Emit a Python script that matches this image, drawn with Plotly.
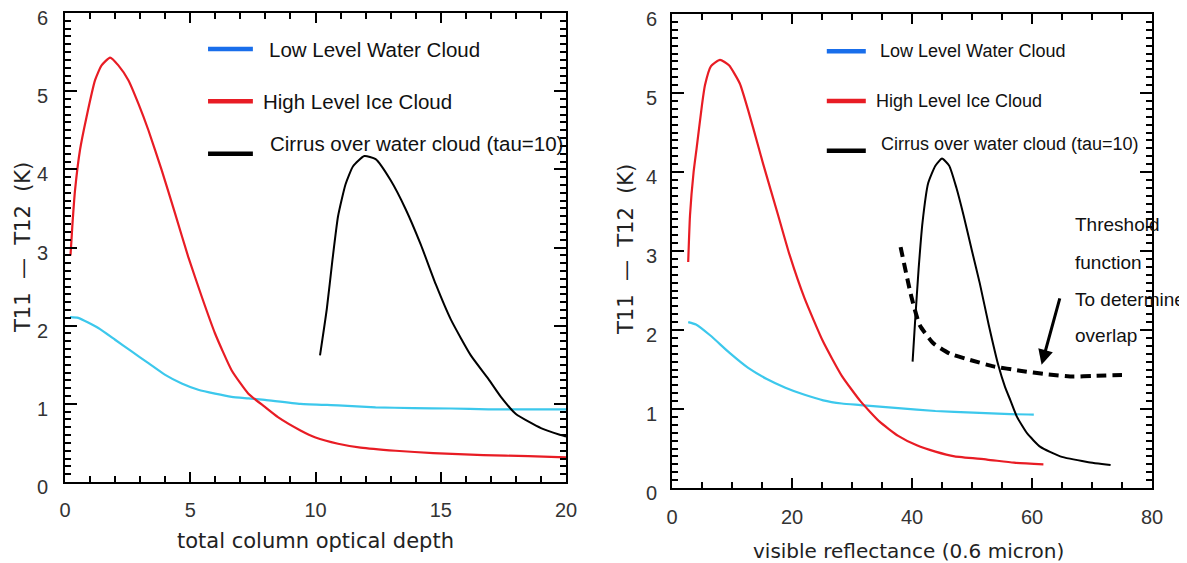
import plotly.graph_objects as go

# ---------------- data: left panel (total column optical depth) ----------------
L_water_x = [0.2, 0.53, 1.33, 2.0, 2.66, 3.33, 4.0, 4.66, 5.32, 5.99, 6.65, 7.32, 7.98, 9.4, 10.9, 12.4, 13.9, 15.4, 16.9, 18.5, 20.0]
L_water_y = [2.11, 2.10, 1.97, 1.82, 1.67, 1.52, 1.37, 1.26, 1.18, 1.13, 1.09, 1.07, 1.05, 1.0, 0.98, 0.955, 0.946, 0.94, 0.93, 0.93, 0.93]

L_ice_x = [0.22, 0.29, 0.40, 0.6, 0.86, 1.2, 1.46, 1.8, 2.13, 2.53, 2.93, 3.33, 3.86, 4.39, 4.92, 5.46, 5.99, 6.65, 7.32, 7.98, 8.5, 9.4, 10.0, 10.9, 11.8, 13.2, 14.7, 16.7, 18.5, 20.0]
L_ice_y = [2.90, 3.26, 3.73, 4.25, 4.67, 5.14, 5.33, 5.43, 5.33, 5.14, 4.84, 4.50, 3.99, 3.44, 2.88, 2.37, 1.90, 1.43, 1.13, 0.96, 0.83, 0.66, 0.57, 0.49, 0.44, 0.40, 0.37, 0.345, 0.33, 0.315]

L_cirrus_x = [10.18, 10.45, 10.68, 10.9, 11.2, 11.5, 11.95, 12.4, 13.0, 13.6, 14.2, 14.8, 15.4, 16.2, 16.9, 17.4, 18.0, 19.0, 19.8, 20.0]
L_cirrus_y = [1.62, 2.21, 2.85, 3.4, 3.81, 4.04, 4.17, 4.13, 3.86, 3.49, 3.04, 2.53, 2.08, 1.62, 1.32, 1.09, 0.87, 0.69, 0.60, 0.58]

# ---------------- data: right panel (visible reflectance) ----------------
R_water_x = [2.7, 4.0, 6.4, 9.6, 12.7, 15.8, 18.9, 22.1, 25.2, 28.3, 31.4, 37.7, 43.9, 50.2, 56.4, 60.3]
R_water_y = [2.10, 2.07, 1.93, 1.71, 1.52, 1.38, 1.27, 1.18, 1.11, 1.07, 1.05, 1.01, 0.975, 0.955, 0.935, 0.93]

R_ice_x = [2.7, 3.0, 3.6, 4.1, 5.0, 5.5, 6.5, 8.0, 9.5, 11.3, 12.7, 14.4, 15.2, 17.7, 19.6, 22.1, 25.2, 28.3, 31.4, 34.6, 37.7, 40.8, 43.9, 47.1, 52.5, 57.0, 61.9]
R_ice_y = [2.86, 3.45, 4.0, 4.3, 4.85, 5.1, 5.34, 5.42, 5.35, 5.12, 4.78, 4.32, 4.1, 3.45, 2.95, 2.4, 1.85, 1.42, 1.10, 0.84, 0.66, 0.54, 0.46, 0.40, 0.36, 0.32, 0.30]

R_cirrus_x = [40.1, 40.5, 41.1, 41.75, 42.7, 43.9, 45.0, 46.2, 47.4, 48.6, 50.0, 51.3, 52.8, 54.4, 55.5, 56.4, 57.5, 59.2, 61.4, 64.7, 69.2, 73.1]
R_cirrus_y = [1.60, 2.09, 2.77, 3.36, 3.86, 4.08, 4.17, 4.08, 3.80, 3.45, 3.0, 2.59, 2.06, 1.55, 1.28, 1.11, 0.90, 0.69, 0.52, 0.40, 0.33, 0.29]

R_thresh_x = [38.1, 39.9, 41.3, 43.6, 46.3, 49.7, 53.6, 58.0, 62.4, 66.9, 70.2, 75.0]
R_thresh_y = [3.05, 2.42, 2.06, 1.83, 1.70, 1.62, 1.54, 1.485, 1.44, 1.41, 1.42, 1.43]

legend_labels = ["Low Level Water Cloud", "High Level Ice Cloud", "Cirrus over water cloud (tau=10)"]
threshold_lines = ["Threshold", "function", "To determine", "overlap"]

# ---------------- page geometry (page body has an 8px default margin) ----------------
OFF = 8
W, H = 1187 - OFF, 563 - OFF
def PX(x):
    return (x - OFF) / W
def PY(y):
    return 1 - (y - OFF) / H

# ---------------- styles ----------------
RED = "rgb(232,28,36)"
CYAN = "rgb(60,200,236)"
LEG_BLUE = "rgb(25,110,235)"
BLACK = "black"
TEXT_FONT = "Liberation Sans, Arial, sans-serif"
TITLE_FONT = "DejaVu Sans, sans-serif"

fig = go.Figure()

def add(x, y, color, xa, ya, width=2, dash=None):
    fig.add_trace(go.Scatter(x=x, y=y, mode="lines", xaxis=xa, yaxis=ya, cliponaxis=False,
                             line=dict(color=color, width=width, dash=dash, shape="spline", smoothing=0.5),
                             showlegend=False, hoverinfo="skip"))

add(L_water_x, L_water_y, CYAN, "x", "y", 2.2)
add(L_ice_x, L_ice_y, RED, "x", "y", 2.2)
add(L_cirrus_x, L_cirrus_y, BLACK, "x", "y", 2)
add(R_water_x, R_water_y, CYAN, "x2", "y2", 2.2)
add(R_ice_x, R_ice_y, RED, "x2", "y2", 2.2)
add(R_cirrus_x, R_cirrus_y, BLACK, "x2", "y2", 2)
add(R_thresh_x, R_thresh_y, BLACK, "x2", "y2", 4, "10px,6px")

def axis_common(**kw):
    d = dict(showline=True, linewidth=2, linecolor="black", mirror="allticks", automargin=False,
             ticks="inside", tickwidth=1.5, tickcolor="black", showgrid=False, zeroline=False,
             ticklabeloverflow="allow",
             tickfont=dict(family=TEXT_FONT, size=20, color="#333"))
    d.update(kw)
    return d

def minor(dt):
    return dict(dtick=dt, ticks="inside", ticklen=6, tickcolor="black", tickwidth=1.5)

fig.update_layout(
    template="none",
    width=W, height=H, margin=dict(l=0, r=0, t=0, b=0, autoexpand=False),
    paper_bgcolor="white", plot_bgcolor="white", showlegend=False,
    xaxis=axis_common(domain=[PX(65), PX(566)], range=[0, 20], dtick=5, ticklen=10, minor=minor(1),
                      ticklabelstandoff=9, anchor="y"),
    yaxis=axis_common(domain=[PY(482), PY(13)], range=[0, 6], dtick=1, ticklen=12, minor=minor(0.1),
                      ticklabelstandoff=11, ticklabelshift=5, anchor="x"),
    xaxis2=axis_common(domain=[PX(672), PX(1152)], range=[0, 80], dtick=20, ticklen=10, minor=minor(5),
                       ticklabelstandoff=10, anchor="y2"),
    yaxis2=axis_common(domain=[PY(488), PY(14)], range=[0, 6], dtick=1, ticklen=12, minor=minor(0.1),
                       ticklabelstandoff=9, ticklabelshift=5, anchor="x2"),
)

# ---------------- legend keys (drawn as in the original slide) ----------------
leg_colors = [LEG_BLUE, RED, BLACK]
left_leg = dict(x0=5.71, x1=7.5, ys=[5.54, 4.87, 4.2], tx=[8.05, 7.82, 8.12], ty=[5.53, 4.87, 4.33], size=20.5)
right_leg = dict(x0=25.8, x1=32.3, ys=[5.53, 4.9, 4.27], tx=[34.25, 33.6, 34.5], ty=[5.53, 4.9, 4.35], size=18)
for (xr, yr, lg) in [("x", "y", left_leg), ("x2", "y2", right_leg)]:
    for i, lab in enumerate(legend_labels):
        fig.add_shape(type="line", xref=xr, yref=yr, x0=lg["x0"], x1=lg["x1"], y0=lg["ys"][i], y1=lg["ys"][i],
                      line=dict(color=leg_colors[i], width=4.5))
        fig.add_annotation(xref=xr, yref=yr, x=lg["tx"][i], y=lg["ty"][i], text=lab, showarrow=False,
                           xanchor="left", yanchor="middle", font=dict(family=TEXT_FONT, size=lg["size"], color="#111"))

# threshold note + arrow
for i, (t, yy) in enumerate(zip(threshold_lines, [3.33, 2.85, 2.38, 1.93])):
    fig.add_annotation(xref="x2", yref="y2", x=66.8, y=yy, text=t, showarrow=False, xanchor="left",
                       yanchor="middle", font=dict(family=TEXT_FONT, size=19, color="#111"))
fig.add_annotation(xref="x2", yref="y2", x=61.6, y=1.56, ax=64.7, ay=2.42, axref="x2", ayref="y2",
                   text="", showarrow=True, arrowhead=2, arrowsize=1, arrowwidth=3, arrowcolor="black")

# axis titles
fig.add_annotation(xref="paper", yref="paper", x=PX(315), y=PY(541), text="total column optical depth",
                   xanchor="center", yanchor="middle",
                   showarrow=False, font=dict(family=TITLE_FONT, size=21, color="#222"))
fig.add_annotation(xref="paper", yref="paper", x=PX(908), y=PY(551), text="visible reflectance (0.6 micron)",
                   xanchor="center", yanchor="middle",
                   showarrow=False, font=dict(family=TITLE_FONT, size=20, color="#222"))
for xp, yp in [(PX(23), PY(248)), (PX(626), PY(250))]:
    fig.add_annotation(xref="paper", yref="paper", x=xp, y=yp, text="T11  \u2014  T12  (K)", textangle=-90,
                       xanchor="center", yanchor="middle",
                       showarrow=False, font=dict(family=TITLE_FONT, size=21, color="#222"))

fig.write_html("out.html")
